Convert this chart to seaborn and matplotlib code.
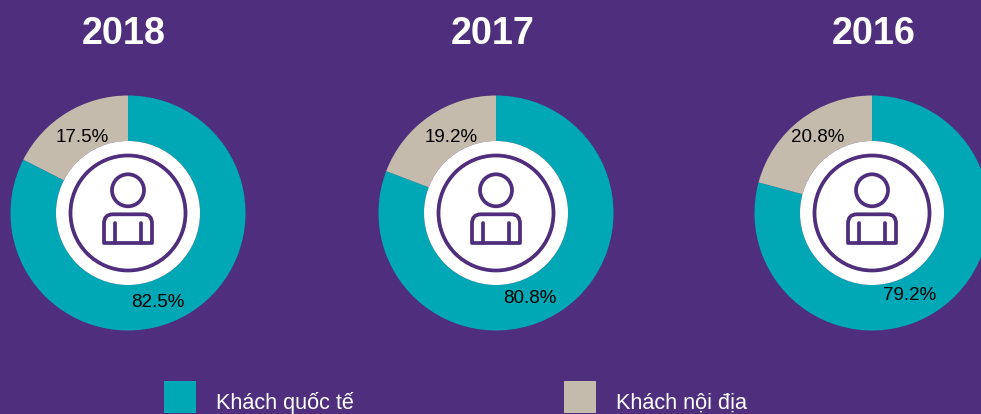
import matplotlib
matplotlib.use("Agg")
import matplotlib.pyplot as plt
from matplotlib.patches import Circle, Rectangle, PathPatch
from matplotlib.path import Path
import seaborn as sns

years = ["2018", "2017", "2016"]
international = [82.5, 80.8, 79.2]
domestic = [17.5, 19.2, 20.8]
series_names = ["Khách quốc tế", "Khách nội địa"]

BG = "#4F2F7D"
palette = sns.color_palette(["#00A7B5", "#C4BBAC"])

sns.set_theme(style="white", rc={"figure.facecolor": BG, "savefig.facecolor": BG})
plt.rcParams["font.family"] = ["Liberation Sans", "DejaVu Sans"]

W, H = 981, 414
R = 117.5
centers_x = [128, 496, 872]
center_y = 213
title_x = [124, 493, 874]
intl_label_xy = [(158, 302), (530, 298), (910, 295)]
dom_label_xy = [(82, 137.5), (451, 137.5), (818, 137.5)]

fig = plt.figure(figsize=((W + 0.01) / 100, (H + 0.01) / 100), dpi=100)


def draw_icon(ax):
    u = 1 / R
    lw = 2.7
    ax.add_patch(Circle((0, 0), 72 * u, fc="white", ec="none", zorder=3))
    ax.add_patch(Circle((0, 0), 57.5 * u, fc="none", ec=BG, lw=lw, zorder=4))
    ax.add_patch(Circle((0, 22.7 * u), 16 * u, fc="none", ec=BG, lw=lw, zorder=4))
    top, bottom, hw, r = 1.3 * u, -30 * u, 24 * u, 9 * u
    verts = [(-hw, bottom), (-hw, -top - r), (-hw, -top),
             (-hw + r, -top), (hw - r, -top), (hw, -top), (hw, -top - r),
             (hw, bottom), (-hw, bottom)]
    codes = [Path.MOVETO, Path.LINETO, Path.CURVE3, Path.CURVE3, Path.LINETO,
             Path.CURVE3, Path.CURVE3, Path.LINETO, Path.CLOSEPOLY]
    ax.add_patch(PathPatch(Path(verts, codes), fc="none", ec=BG, lw=lw, joinstyle="round", zorder=4))
    for sx in (-12.7, 12.7):
        ax.plot([sx * u, sx * u], [-10 * u, bottom], color=BG, lw=lw, zorder=4, solid_capstyle="round")


for i, year in enumerate(years):
    cx = centers_x[i]
    ax = fig.add_axes([(cx - R) / W, 1 - (center_y + R) / H, 2 * R / W, 2 * R / H])
    ax.set_facecolor("none")
    ax.pie([international[i], domestic[i]], colors=palette, startangle=90, counterclock=False,
           radius=1, wedgeprops={"width": 1 - 72 / R, "linewidth": 0})
    ax.set_xlim(-1, 1)
    ax.set_ylim(-1, 1)
    ax.set_aspect("equal")
    ax.axis("off")
    draw_icon(ax)
    fig.text(title_x[i] / W, 1 - 34 / H, year, color="white", fontsize=27.2, fontweight="bold",
             ha="center", va="center")
    for val, (lx, ly) in zip((international[i], domestic[i]), (intl_label_xy[i], dom_label_xy[i])):
        fig.text(lx / W, 1 - ly / H, f"{val}%", color="black", fontsize=13.5,
                 ha="center", va="center", zorder=10)

swatch_x = [164, 564]
legend_text_x = [216, 616]
for sx, tx, name, col in zip(swatch_x, legend_text_x, series_names, palette):
    fig.add_artist(Rectangle((sx / W, 1 - 413 / H), 32 / W, 32 / H, transform=fig.transFigure,
                             fc=col, ec="none"))
    fig.text(tx / W, 1 - 408.5 / H, name, color="white", fontsize=15.6, ha="left", va="baseline")

fig.savefig("out.png", dpi=100, facecolor=BG)
